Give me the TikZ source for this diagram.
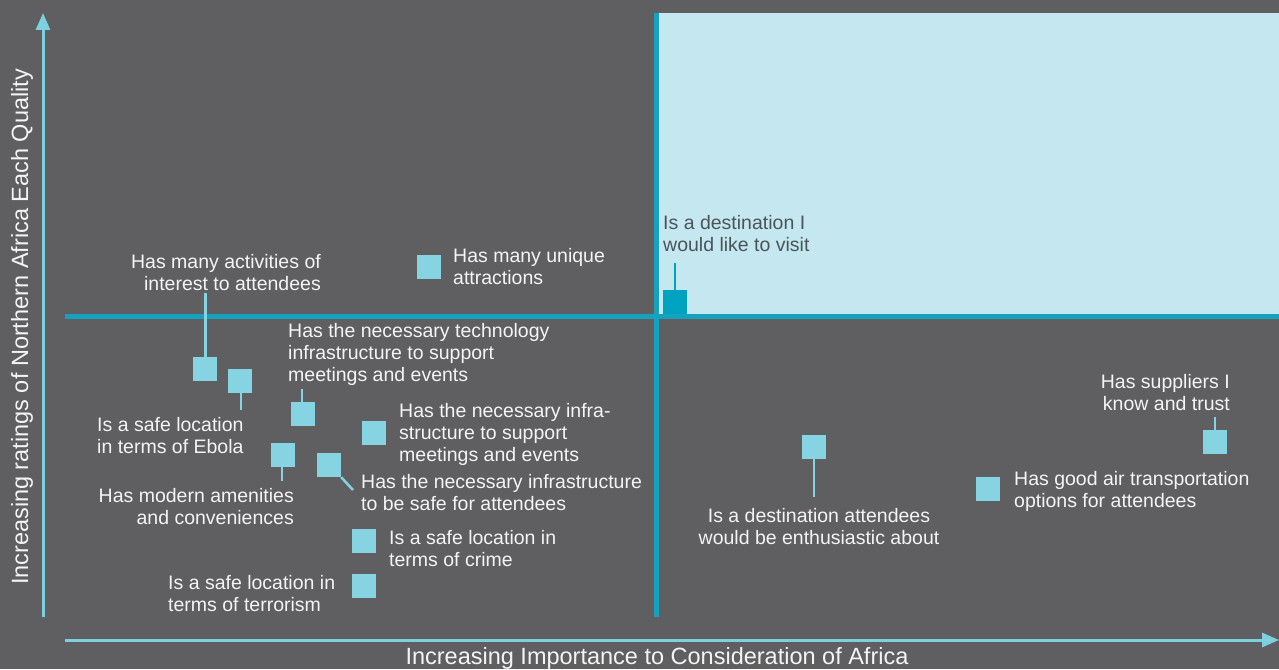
\documentclass[tikz,border=0pt]{standalone}
\usepackage{fontspec}
\setmainfont{Liberation Sans}
\usetikzlibrary{arrows.meta}
\definecolor{bg}{HTML}{5F5F61}
\definecolor{zone}{HTML}{C5E7EF}
\definecolor{divider}{HTML}{14A2BE}
\definecolor{sqc}{HTML}{86D3E1}
\definecolor{axc}{HTML}{7FD0DF}
\definecolor{darksq}{HTML}{00A3BF}
\definecolor{txt}{HTML}{F4F4F4}
\definecolor{darktxt}{HTML}{4A555B}
\begin{document}
\begin{tikzpicture}[x=1pt,y=-1pt,
  sq/.style={fill=sqc,minimum size=24pt,inner sep=0pt,draw=none},
  lbl/.style={text=txt,font=\fontsize{19.5}{22}\selectfont,inner sep=0pt},
  axlbl/.style={text=txt,font=\fontsize{23.5}{26}\selectfont,inner sep=0pt},
  lead/.style={draw=sqc,line width=2.5pt},
  axis/.style={draw=axc,line width=3pt,-{Triangle[width=14pt,length=17pt]}},
  divline/.style={draw=divider,line width=5pt}]
\fill[bg] (0,0) rectangle (1279,669);
\useasboundingbox (0,0) rectangle (1279,669);
\fill[zone] (656,13) rectangle (1279,316);
\draw[divline] (656,13) -- (656,617);
\draw[divline] (65,316) -- (1279,316);
% axes
\coordinate (ybot) at (43,617);
\coordinate (ytop) at (43,13);
\coordinate (xleft) at (65,640);
\coordinate (xright) at (1279,640);
\draw[axis] (ybot) -- (ytop);
\draw[axis] (xleft) -- (xright);
\node[axlbl,anchor=base,rotate=90] (ylab) at (28,327) {Increasing ratings of Northern Africa Each Quality};
\node[axlbl,anchor=base] (xlab) at (657,664) {Increasing Importance to Consideration of Africa};
% squares
\node[sq] (act) at (205,369) {};
\node[sq] (ebo) at (240,381) {};
\node[sq] (tech) at (303,414) {};
\node[sq] (amen) at (283,455) {};
\node[sq] (isafe) at (329,465) {};
\node[sq] (isup) at (374,433) {};
\node[sq] (crime) at (364,541) {};
\node[sq] (terr) at (364,586) {};
\node[sq] (uniq) at (429,267) {};
\node[sq,fill=darksq] (visit) at (675,302) {};
\node[sq] (enth) at (814,447) {};
\node[sq] (air) at (988,489) {};
\node[sq] (supp) at (1215,442) {};
% leader ends
\coordinate (actE) at (205.5,293);
\coordinate (eboE) at (241,410);
\coordinate (techE) at (302,389);
\coordinate (amenE) at (282,481);
\coordinate (isafeE) at (353,490);
\coordinate (visitE) at (675,263);
\coordinate (enthE) at (814,497);
\coordinate (suppE) at (1215,417);
\draw[lead] (act.north -| actE) -- (actE);
\draw[lead] (ebo.south -| eboE) -- (eboE);
\draw[lead] (tech.north -| techE) -- (techE);
\draw[lead] (amen.south -| amenE) -- (amenE);
\draw[lead] (isafe.south east) -- (isafeE);
\draw[lead,draw=darksq] (visit.north) -- (visitE);
\draw[lead] (enth.south) -- (enthE);
\draw[lead] (supp.north) -- (suppE);
% labels (anchor base = baseline of last line)
\node[lbl,anchor=base east,align=right] (actL) at (321,290) {Has many activities of\\interest to attendees};
\node[lbl,anchor=base west,align=left] (uniqL) at (453,284) {Has many unique\\attractions};
\node[lbl,anchor=base west,align=left] (techL) at (288,381) {Has the necessary technology\\infrastructure to support\\meetings and events};
\node[lbl,anchor=base west,align=left] (eboL) at (97,453) {Is a safe location\\in terms of Ebola};
\node[lbl,anchor=base west,align=left] (isupL) at (399,461) {Has the necessary infra-\\structure to support\\meetings and events};
\node[lbl,anchor=base west,align=left] (isafeL) at (361,510) {Has the necessary infrastructure\\to be safe for attendees};
\node[lbl,anchor=base east,align=right] (amenL) at (294,524) {Has modern amenities\\and conveniences};
\node[lbl,anchor=base west,align=left] (crimeL) at (389,566) {Is a safe location in\\terms of crime};
\node[lbl,anchor=base west,align=left] (terrL) at (168,611) {Is a safe location in\\terms of terrorism};
\node[lbl,text=darktxt,anchor=base west,align=left] (visitL) at (663,251) {Is a destination I\\would like to visit};
\node[lbl,anchor=base,align=center] (enthL) at (819,544) {Is a destination attendees\\would be enthusiastic about};
\node[lbl,anchor=base east,align=right] (suppL) at (1230,410) {Has suppliers I\\know and trust};
\node[lbl,anchor=base west,align=left] (airL) at (1014,507) {Has good air transportation\\options for attendees};
\end{tikzpicture}
\end{document}
